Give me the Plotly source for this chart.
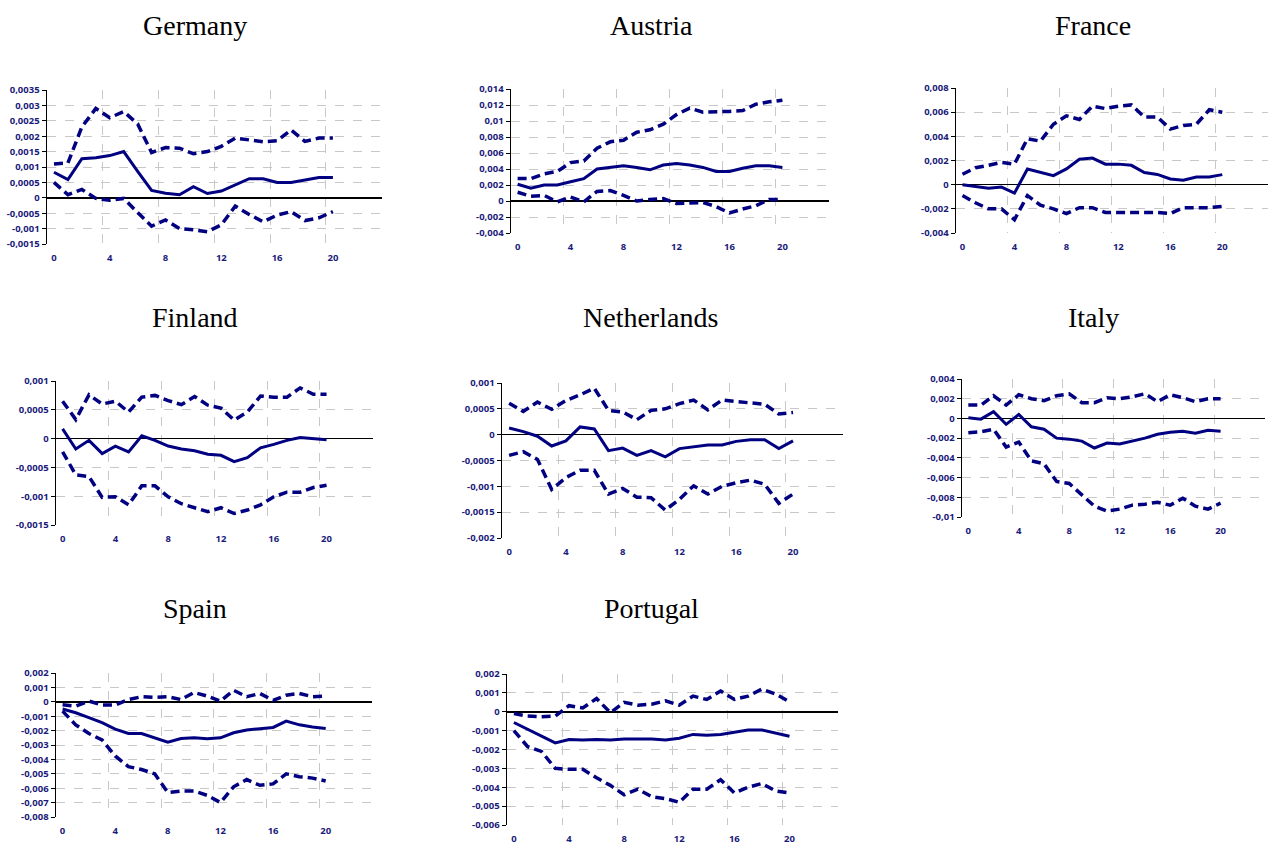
import plotly.graph_objects as go

# ---------------- data ----------------
horizon = list(range(21))
x_tick_labels = [0, 4, 8, 12, 16, 20]

countries = ["Germany", "Austria", "France", "Finland", "Netherlands", "Italy", "Spain", "Portugal"]

germany_irf = [0.00083, 0.00059, 0.00127, 0.0013, 0.00137, 0.0015, 0.00086, 0.00024, 0.00015, 0.0001, 0.00036,
               0.00014, 0.00022, 0.00043, 0.00062, 0.00062, 0.0005, 0.0005, 0.00058, 0.00066, 0.00066]
germany_upper = [0.0011, 0.00113, 0.0023, 0.0029, 0.0026, 0.0028, 0.0024, 0.00147, 0.00163, 0.00161, 0.00143,
                 0.0015, 0.00167, 0.00194, 0.00188, 0.00182, 0.00185, 0.0022, 0.00183, 0.00194, 0.00194]
germany_lower = [0.0005, 0.0001, 0.00027, -0.00002, -0.00008, -0.00002, -0.00048, -0.00092, -0.00072, -0.001,
                 -0.00104, -0.0011, -0.00088, -0.00027, -0.00054, -0.00078, -0.00056, -0.00045, -0.00074,
                 -0.00065, -0.00045]
germany_yticks = [0.0035, 0.003, 0.0025, 0.002, 0.0015, 0.001, 0.0005, 0, -0.0005, -0.001, -0.0015]

austria_irf = [0.0021, 0.0016, 0.002, 0.002, 0.0024, 0.0028, 0.004, 0.0042, 0.0044, 0.0042, 0.0039,
               0.0045, 0.0047, 0.0045, 0.0042, 0.0037, 0.0037, 0.0041, 0.0044, 0.0044, 0.0042]
austria_upper = [0.0028, 0.0028, 0.0034, 0.0037, 0.0048, 0.005, 0.0066, 0.0074, 0.0076, 0.0086, 0.0089,
                 0.0096, 0.0108, 0.0116, 0.0111, 0.0111, 0.0112, 0.0113, 0.0121, 0.0124, 0.0126]
austria_lower = [0.0011, 0.0006, 0.0007, -0.0001, 0.0005, -0.0001, 0.0012, 0.0013, 0.0007, 0.0, 0.0002,
                 0.0003, -0.0003, -0.0002, -0.0002, -0.0007, -0.0015, -0.001, -0.0006, 0.0002, 0.0002]
austria_yticks = [0.014, 0.012, 0.01, 0.008, 0.006, 0.004, 0.002, 0, -0.002, -0.004]

france_irf = [0.0, -0.00014, -0.0003, -0.0002, -0.0007, 0.0013, 0.00105, 0.00075, 0.0013, 0.0021, 0.0022,
              0.0017, 0.0017, 0.0016, 0.001, 0.00085, 0.00047, 0.00036, 0.00064, 0.00064, 0.00083]
france_upper = [0.00086, 0.0014, 0.0016, 0.00185, 0.0017, 0.0038, 0.0036, 0.005, 0.0057, 0.0054, 0.0065,
                0.0063, 0.0065, 0.0066, 0.0056, 0.0056, 0.0046, 0.0049, 0.005, 0.0062, 0.006]
france_lower = [-0.0009, -0.0015, -0.002, -0.002, -0.0029, -0.0009, -0.0017, -0.002, -0.0024, -0.0019, -0.0019,
                -0.0023, -0.0023, -0.0023, -0.0023, -0.0023, -0.0024, -0.0019, -0.0019, -0.0019, -0.0018]
france_yticks = [0.008, 0.006, 0.004, 0.002, 0, -0.002, -0.004]

finland_irf = [0.00017, -0.00018, -0.00003, -0.00026, -0.00013, -0.00023, 0.00005, -0.00003, -0.00013, -0.00018,
               -0.00021, -0.00027, -0.00029, -0.0004, -0.00033, -0.00016, -0.0001, -0.00003, 0.00002, 0.0, -0.00002]
finland_upper = [0.00065, 0.00033, 0.00076, 0.0006, 0.00065, 0.00046, 0.00072, 0.00075, 0.00066, 0.00059, 0.00073,
                 0.00058, 0.00053, 0.00032, 0.00046, 0.00074, 0.00072, 0.00072, 0.00088, 0.00077, 0.00077]
finland_lower = [-0.00023, -0.00063, -0.00066, -0.00102, -0.00101, -0.00115, -0.00082, -0.00082, -0.00101,
                 -0.00113, -0.0012, -0.00127, -0.0012, -0.0013, -0.00124, -0.00115, -0.00101, -0.00093,
                 -0.00093, -0.00085, -0.00081]
finland_yticks = [0.001, 0.0005, 0, -0.0005, -0.001, -0.0015]

netherlands_irf = [0.00013, 0.00006, -0.00003, -0.00022, -0.00012, 0.00015, 0.00011, -0.00031, -0.00026, -0.0004,
                   -0.00031, -0.00043, -0.00027, -0.00024, -0.0002, -0.0002, -0.00013, -0.0001, -0.0001,
                   -0.00027, -0.00012]
netherlands_upper = [0.00061, 0.00045, 0.00063, 0.00049, 0.00066, 0.00077, 0.0009, 0.00047, 0.00044, 0.00029,
                     0.00047, 0.0005, 0.0006, 0.00067, 0.00048, 0.00067, 0.00064, 0.00062, 0.00059, 0.0004, 0.00043]
netherlands_lower = [-0.0004, -0.00033, -0.00048, -0.00106, -0.00083, -0.00069, -0.00069, -0.00115, -0.00104,
                     -0.00121, -0.00122, -0.00146, -0.00125, -0.00099, -0.00115, -0.001, -0.00093, -0.00088,
                     -0.00096, -0.00133, -0.00115]
netherlands_yticks = [0.001, 0.0005, 0, -0.0005, -0.001, -0.0015, -0.002]

italy_irf = [0.00007, -0.00007, 0.00068, -0.0006, 0.0004, -0.00085, -0.0011, -0.002, -0.0021, -0.0023, -0.003,
             -0.0025, -0.0026, -0.0023, -0.002, -0.0016, -0.0014, -0.0013, -0.0015, -0.0012, -0.0013]
italy_upper = [0.00135, 0.00135, 0.0023, 0.00135, 0.0024, 0.002, 0.0018, 0.0023, 0.0025, 0.0016, 0.0016,
               0.0021, 0.002, 0.0022, 0.0025, 0.0017, 0.0024, 0.0021, 0.0017, 0.002, 0.002]
italy_lower = [-0.00145, -0.00135, -0.0011, -0.0029, -0.0024, -0.0043, -0.0046, -0.0064, -0.0066, -0.0078, -0.0089,
               -0.0094, -0.0092, -0.0088, -0.0087, -0.0085, -0.0088, -0.0081, -0.0089, -0.0092, -0.0086]
italy_yticks = [0.004, 0.002, 0, -0.002, -0.004, -0.006, -0.008, -0.01]

spain_irf = [-0.0005, -0.00076, -0.0011, -0.00145, -0.0019, -0.0022, -0.0022, -0.0025, -0.0028, -0.00255, -0.0025,
             -0.00257, -0.0025, -0.00215, -0.00196, -0.00187, -0.00178, -0.00134, -0.0016, -0.00175, -0.00185]
spain_upper = [-0.0002, -0.0003, 0.00005, -0.00023, -0.00023, 0.00016, 0.00035, 0.0003, 0.00035, 0.00016, 0.00065,
               0.0004, 0.00005, 0.0008, 0.00035, 0.00058, 0.0001, 0.00046, 0.00058, 0.00035, 0.0004]
spain_lower = [-0.00065, -0.0016, -0.0022, -0.00265, -0.00376, -0.0045, -0.0047, -0.005, -0.0063, -0.0062, -0.0062,
               -0.0065, -0.007, -0.0059, -0.0054, -0.0058, -0.0057, -0.005, -0.0052, -0.0053, -0.0055]
spain_yticks = [0.002, 0.001, 0, -0.001, -0.002, -0.003, -0.004, -0.005, -0.006, -0.007, -0.008]

portugal_irf = [-0.00057, -0.00092, -0.0013, -0.00165, -0.00147, -0.0015, -0.00147, -0.0015, -0.00145, -0.00145,
                -0.00145, -0.0015, -0.0014, -0.0012, -0.00124, -0.0012, -0.0011, -0.00097, -0.00097, -0.00115,
                -0.0013]
portugal_upper = [-0.0001, -0.00023, -0.00027, -0.00023, 0.00032, 0.0002, 0.0007, -0.00005, 0.0005, 0.00035,
                  0.0004, 0.00058, 0.00035, 0.00083, 0.00065, 0.0011, 0.00065, 0.00083, 0.0012, 0.00094, 0.00053]
portugal_lower = [-0.001, -0.00185, -0.0021, -0.003, -0.00305, -0.00305, -0.0035, -0.0039, -0.0044, -0.0041,
                  -0.0045, -0.0046, -0.0048, -0.0041, -0.0041, -0.0036, -0.0043, -0.004, -0.0038, -0.0042, -0.0043]
portugal_yticks = [0.002, 0.001, 0, -0.001, -0.002, -0.003, -0.004, -0.005, -0.006]

series = {
    "Germany": (germany_irf, germany_upper, germany_lower, germany_yticks),
    "Austria": (austria_irf, austria_upper, austria_lower, austria_yticks),
    "France": (france_irf, france_upper, france_lower, france_yticks),
    "Finland": (finland_irf, finland_upper, finland_lower, finland_yticks),
    "Netherlands": (netherlands_irf, netherlands_upper, netherlands_lower, netherlands_yticks),
    "Italy": (italy_irf, italy_upper, italy_lower, italy_yticks),
    "Spain": (spain_irf, spain_upper, spain_lower, spain_yticks),
    "Portugal": (portugal_irf, portugal_upper, portugal_lower, portugal_yticks),
}

# ---------------- layout (pixel boxes: left, right, top, bottom; title centre x, y) ----------------
W, H = 1275, 843
boxes = {
    "Germany": (47, 382, 90, 244, 195, 25),
    "Austria": (511, 829, 89, 233, 651, 25),
    "France": (956, 1268, 88, 233, 1093, 25),
    "Finland": (56, 373, 381, 525, 195, 317),
    "Netherlands": (502, 843, 383, 538, 650, 317),
    "Italy": (962, 1265, 379, 517, 1093, 317),
    "Spain": (56, 372, 673, 817, 195, 608),
    "Portugal": (507, 838, 674, 825, 651, 608),
}

NAVY = "#000080"
LABEL = "#1a1a7a"
GRID = "#c8c8c8"
tickfont = dict(family="Open Sans", size=9.5, color=LABEL)


def fmt(v):
    s = f"{v:g}"
    return "<b>" + s.replace(".", ",") + "</b>"


fig = go.Figure()
layout = dict(
    width=W, height=H,
    margin=dict(l=0, r=0, t=0, b=0, autoexpand=False),
    paper_bgcolor="white", plot_bgcolor="white",
    showlegend=False,
    annotations=[],
)

for i, name in enumerate(countries, start=1):
    irf, up, lo, yt = series[name]
    l, r, t, b, tx, ty = boxes[name]
    sx = "" if i == 1 else str(i)
    for vals, dash, w in ((up, "9px,5px", 3.5), (lo, "9px,5px", 3.5), (irf, "solid", 3)):
        fig.add_trace(go.Scatter(
            x=horizon, y=vals, mode="lines",
            line=dict(color=NAVY, width=w, dash=dash),
            xaxis="x" + sx, yaxis="y" + sx, hoverinfo="skip",
        ))
    layout["xaxis" + sx] = dict(
        domain=[l / W, r / W], anchor="y" + sx,
        range=[-0.5, 23.52],
        tickmode="array", tickvals=x_tick_labels, ticktext=["<b>%d</b>" % v for v in x_tick_labels],
        ticks="", showgrid=False, zeroline=False, showline=False,
        ticklabelstandoff=6,
        tickfont=tickfont,
        minor=dict(tickvals=[3.5, 7.5, 11.5, 15.5, 19.5, 23.5], showgrid=True,
                   gridcolor=GRID, griddash="dash", gridwidth=1, ticks=""),
    )
    layout["yaxis" + sx] = dict(
        domain=[1 - b / H, 1 - t / H], anchor="x" + sx,
        range=[min(yt), max(yt)],
        tickmode="array", tickvals=yt, ticktext=[fmt(v) for v in yt],
        ticks="outside", ticklen=4, tickcolor="black", tickwidth=1,
        showline=True, linecolor="black", linewidth=1.5,
        showgrid=True, gridcolor=GRID, griddash="dash", gridwidth=1,
        zeroline=True, zerolinecolor="black", zerolinewidth=1.5,
        tickfont=tickfont,
    )
    layout["annotations"].append(dict(
        text=name, x=tx / W, y=1 - ty / H, xref="paper", yref="paper",
        xanchor="center", yanchor="middle", showarrow=False,
        font=dict(family="Liberation Serif", size=28, color="black"),
    ))

fig.update_layout(**layout)
fig.write_html("out.html", config={"displayModeBar": False, "staticPlot": True},
               post_script="document.body.style.margin='0';document.body.style.overflow='hidden';")
